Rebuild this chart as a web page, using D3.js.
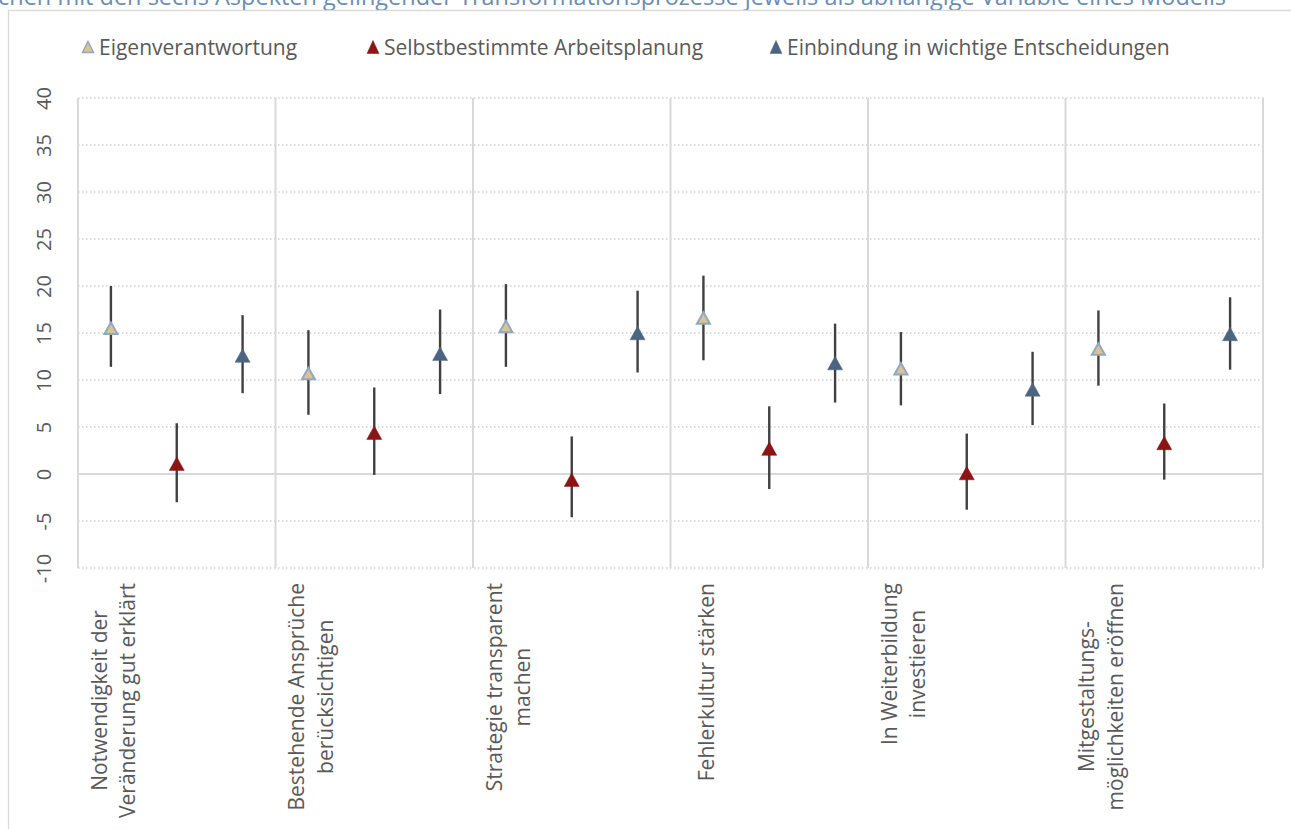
<!DOCTYPE html>
<html>
<head>
<meta charset="utf-8">
<script src="https://cdn.jsdelivr.net/npm/d3@7"></script>
<style>
  html, body { margin: 0; padding: 0; background: #fff; }
  svg { display: block; font-family: "Open Sans", sans-serif; }
</style>
</head>
<body>
<svg id="chart" width="1291" height="829"></svg>
<script>
const categories = [
  ["Notwendigkeit der", "Veränderung gut erklärt"],
  ["Bestehende Ansprüche", "berücksichtigen"],
  ["Strategie transparent", "machen"],
  ["Fehlerkultur stärken"],
  ["In Weiterbildung", "investieren"],
  ["Mitgestaltungs-", "möglichkeiten eröffnen"]
];
const seriesNames = ["Eigenverantwortung", "Selbstbestimmte Arbeitsplanung", "Einbindung in wichtige Entscheidungen"];
const eigenValue = [15.5, 10.7, 15.7, 16.6, 11.2, 13.3];
const eigenLow   = [11.4, 6.3, 11.4, 12.1, 7.3, 9.4];
const eigenHigh  = [20.0, 15.3, 20.2, 21.1, 15.1, 17.4];
const selbstValue = [1.1, 4.4, -0.6, 2.7, 0.1, 3.3];
const selbstLow   = [-3.0, -0.1, -4.6, -1.6, -3.8, -0.6];
const selbstHigh  = [5.4, 9.2, 4.0, 7.2, 4.3, 7.5];
const einbValue = [12.6, 12.8, 15.0, 11.8, 9.0, 14.9];
const einbLow   = [8.6, 8.5, 10.8, 7.6, 5.2, 11.1];
const einbHigh  = [16.9, 17.5, 19.5, 16.0, 13.0, 18.8];
const yTicks = [-10, -5, 0, 5, 10, 15, 20, 25, 30, 35, 40];
const titleText = "chen mit den sechs Aspekten gelingender Transformationsprozesse jeweils als abhängige Variable eines Modells";

const seriesStyle = [
  { fill: "#DFC290", stroke: "#8FA9C4", sw: 2 },
  { fill: "#8B1414", stroke: "#8B1414", sw: 0.5 },
  { fill: "#4B6480", stroke: "#4B6480", sw: 0.5 }
];
const series = [
  { name: seriesNames[0], v: eigenValue, lo: eigenLow, hi: eigenHigh },
  { name: seriesNames[1], v: selbstValue, lo: selbstLow, hi: selbstHigh },
  { name: seriesNames[2], v: einbValue, lo: einbLow, hi: einbHigh }
];

const svg = d3.select("#chart");
const L = 78, R = 1263, T = 98, B = 568;

// title (clipped at top, as in the reference)
svg.append("text").attr("x", -2).attr("y", 5)
  .attr("fill", "#6A8CB0").attr("font-size", 23.5).text(titleText);

// outer frame
svg.append("rect").attr("x", 8.5).attr("y", 10.5).attr("width", 1300).attr("height", 840)
  .attr("fill", "none").attr("stroke", "#D9D9D9").attr("stroke-width", 1.3);

const y = d3.scaleLinear().domain([-10, 40]).range([B, T]);
const x0 = d3.scaleBand().domain(d3.range(categories.length)).range([L, R]).paddingInner(0).paddingOuter(0);
const x1 = d3.scalePoint().domain([0, 1, 2]).range([0, x0.bandwidth()]).padding(0.5);

// horizontal dotted gridlines
svg.append("g").selectAll("line").data(yTicks.filter(t => t !== 0)).join("line")
  .attr("x1", L).attr("x2", R).attr("y1", d => y(d)).attr("y2", d => y(d))
  .attr("stroke", "#D0D0D0").attr("stroke-width", 1.3).attr("stroke-dasharray", "1.5,2.5");

// zero line
svg.append("line").attr("x1", L).attr("x2", R).attr("y1", y(0)).attr("y2", y(0))
  .attr("stroke", "#D9D9D9").attr("stroke-width", 2);

// category separators
const seps = d3.range(categories.length + 1).map(i => i < categories.length ? x0(i) : x0(categories.length - 1) + x0.bandwidth());
svg.append("g").selectAll("line").data(seps).join("line")
  .attr("x1", d => d).attr("x2", d => d).attr("y1", T).attr("y2", B)
  .attr("stroke", "#D9D9D9").attr("stroke-width", 2);

// y axis labels (rotated)
const yAxis = d3.axisLeft(y).tickValues(yTicks).tickSize(0).tickPadding(0)
  .tickFormat(d => String(d));
const gy = svg.append("g").attr("transform", `translate(${L},0)`).call(yAxis);
gy.select(".domain").remove();
gy.selectAll(".tick text")
  .attr("font-family", "Open Sans").attr("font-size", 20).attr("fill", "#595959")
  .attr("text-anchor", "middle").attr("x", null).attr("dy", null)
  .attr("transform", "translate(-35,0) rotate(-90)")
  .attr("dominant-baseline", "central");

// error bars and markers
function tri(w, h) {
  return `M0,${-h/2}L${w/2},${h/2}L${-w/2},${h/2}Z`;
}
series.forEach((s, si) => {
  const g = svg.append("g");
  const idx = d3.range(categories.length);
  g.selectAll("line").data(idx).join("line")
    .attr("x1", i => x0(i) + x1(si)).attr("x2", i => x0(i) + x1(si))
    .attr("y1", i => y(s.lo[i])).attr("y2", i => y(s.hi[i]))
    .attr("stroke", "#404040").attr("stroke-width", 2.4);
  const st = seriesStyle[si];
  g.selectAll("path").data(idx).join("path")
    .attr("d", si === 0 ? tri(13, 11.5) : tri(15, 13.5))
    .attr("transform", i => `translate(${x0(i) + x1(si)},${y(s.v[i])})`)
    .attr("fill", st.fill).attr("stroke", st.stroke).attr("stroke-width", st.sw)
    .attr("stroke-linejoin", "miter");
});

// x category labels (rotated, multi-line)
categories.forEach((lines, i) => {
  const g = svg.append("g");
  const texts = lines.map(t => g.append("text").attr("font-size", 21).attr("fill", "#595959")
    .attr("text-anchor", "middle").attr("dominant-baseline", "central").text(t));
  const maxLen = d3.max(texts, t => t.node().getComputedTextLength());
  const cy = 583 + maxLen / 2;
  const lh = 28.5;
  const cx = x0(i) + 35;
  texts.forEach((t, k) => {
    const xx = cx + (k - (lines.length - 1) / 2) * lh;
    t.attr("transform", `translate(${xx},${cy}) rotate(-90)`);
  });
});

// legend
const legendX = [88, 373, 776];
seriesNames.forEach((n, si) => {
  const st = seriesStyle[si];
  svg.append("path").attr("d", si === 0 ? tri(11, 11) : tri(12, 13))
    .attr("transform", `translate(${legendX[si]},${47})`)
    .attr("fill", st.fill).attr("stroke", st.stroke).attr("stroke-width", si === 0 ? 1.5 : 0.5);
  svg.append("text").attr("x", legendX[si] + 11).attr("y", 47)
    .attr("dominant-baseline", "central").attr("font-size", 21).attr("fill", "#595959").text(n);
});
</script>
</body>
</html>
